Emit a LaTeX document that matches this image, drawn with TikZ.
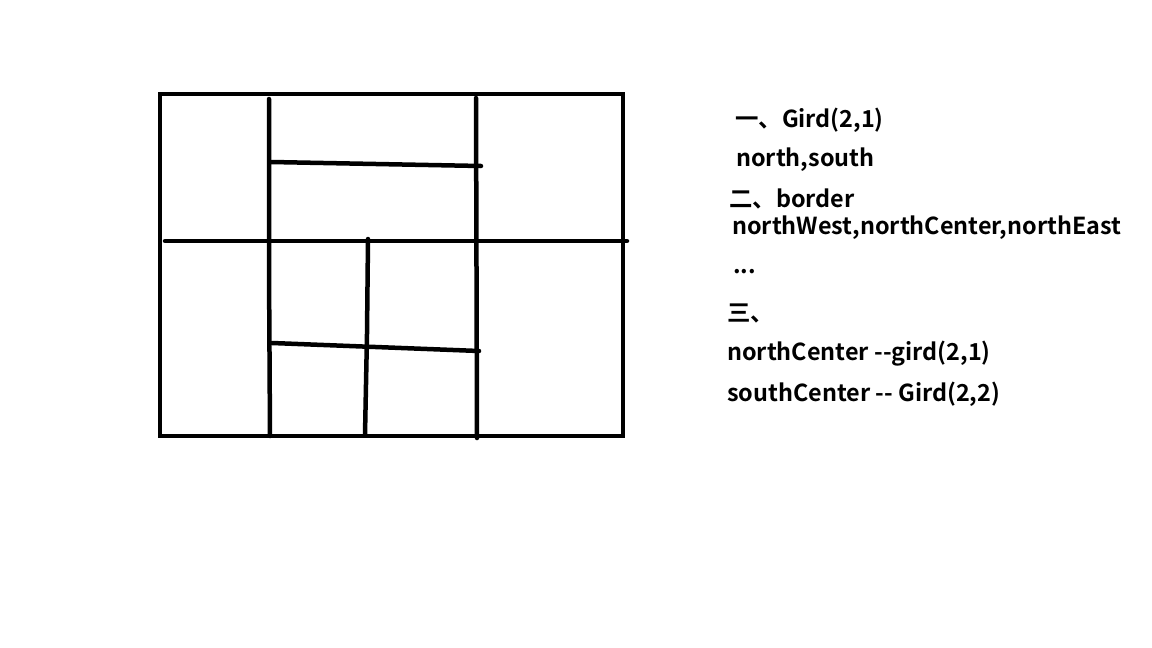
\documentclass[tikz,border=0pt]{standalone}
\usepackage{fontspec}
\setmainfont{Noto Sans CJK SC}[BoldFont={Noto Sans CJK SC Bold},Ligatures=TeXOff]
\begin{document}
\begin{tikzpicture}[x=1pt,y=-1pt,
  pen/.style={line width=4.5pt,line cap=round,line join=round},
  txt/.style={anchor=west,inner sep=0pt,font=\fontsize{23.4}{28}\selectfont\bfseries}]
\useasboundingbox (0,0) rectangle (1152,648);
% outer frame
\draw[pen,line cap=butt,line join=miter] (160,94) rectangle (623,436);
% middle horizontal
\draw[pen] (165,241) -- (627,241);
% left vertical
\draw[pen] (269,99) -- (269,268) -- (270,436);
% right vertical
\draw[pen] (476,98) -- (477,438);
% upper crossbar
\draw[pen] (271,162) -- (481,166);
% middle vertical (lower half)
\draw[pen] (368,239) -- (367,334) -- (365,435);
% lower crossbar
\draw[pen] (272,343) -- (479,351);
% texts
\node[txt] (t1) at (735,120) {一、Gird(2,1)};
\node[txt] (t2) at (736,160) {north,south};
\node[txt] (t3) at (729,199) {二、border};
\node[txt] (t4) at (732,228) {northWest,northCenter,northEast};
\node[txt] (t5) at (733,272) {...};
\node[txt] (t6) at (727,313) {三、};
\node[txt] (t7) at (727,354) {northCenter -{}-gird(2,1)};
\node[txt] (t8) at (727,394) {southCenter -{}- Gird(2,2)};
\end{tikzpicture}
\end{document}
